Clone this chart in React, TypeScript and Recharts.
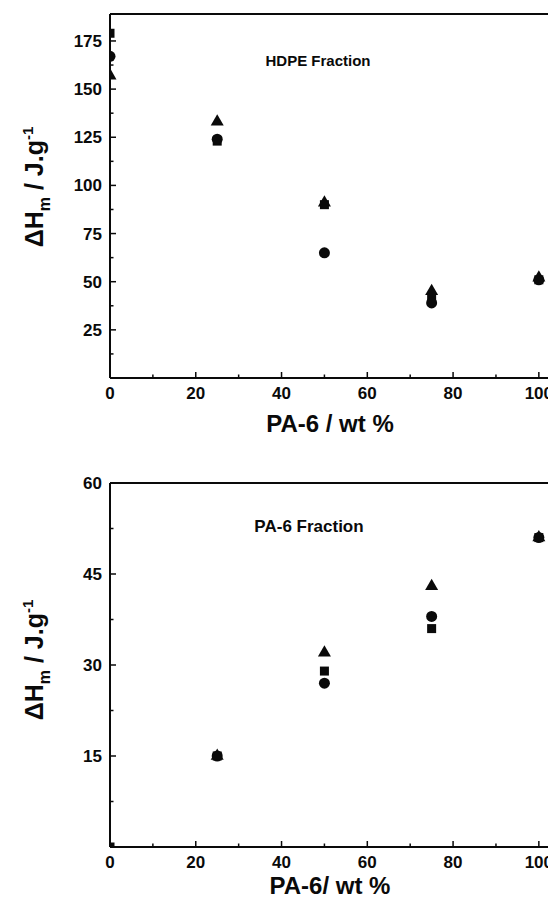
import { ScatterChart, Scatter, XAxis, YAxis, ReferenceLine } from 'recharts';

// PA-6 content of the blends (wt %)
const pa6Content = [0, 25, 50, 75, 100];

// HDPE fraction, melting enthalpy (J/g)
const hdpeSquare = [179, 123, 90, 41, 51];
const hdpeCircle = [167, 124, 65, 39, 51];
const hdpeTriangle = [157, 133, 91, 45, 52];

// PA-6 fraction, melting enthalpy (J/g)
const pa6Square = [0, 15, 29, 36, 51];
const pa6Circle = [null, 15, 27, 38, 51];
const pa6Triangle = [null, 15, 32, 43, 51];

const xTicks = [0, 10, 20, 30, 40, 50, 60, 70, 80, 90, 100];
const hdpeYTicks = [12.5, 25, 37.5, 50, 62.5, 75, 87.5, 100, 112.5, 125, 137.5, 150, 162.5, 175];
const pa6YTicks = [7.5, 15, 22.5, 30, 37.5, 45, 52.5, 60];

const FONT = '"Liberation Sans", Arial, Helvetica, sans-serif';
const INK = '#0a0a0a';

const toPoints = (ys: (number | null)[]) =>
  pa6Content.map((x, i) => ({ x, y: ys[i] })).filter((p) => p.y !== null);

const SquareMark = (p: any) => <rect x={p.cx - 4.5} y={p.cy - 4.5} width={9} height={9} fill={INK} />;
const CircleMark = (p: any) => <circle cx={p.cx} cy={p.cy} r={5.5} fill={INK} />;
const TriangleMark = (p: any) => {
  const s = 13;
  const h = s * 0.866;
  return (
    <path
      d={`M${p.cx},${p.cy - (h * 2) / 3}L${p.cx + s / 2},${p.cy + h / 3}L${p.cx - s / 2},${p.cy + h / 3}Z`}
      fill={INK}
    />
  );
};

const XTick = ({ x, y, payload }: any) => {
  const v = payload.value;
  const major = v % 20 === 0;
  return (
    <g>
      <line x1={x} x2={x} y1={y} y2={y - (major ? 6 : 3.5)} stroke={INK} strokeWidth={1.5} />
      {major && (
        <text x={x} y={y + 9} dy="0.71em" textAnchor="middle" fill={INK} fontSize={17} fontWeight="bold" fontFamily={FONT}>
          {v}
        </text>
      )}
    </g>
  );
};

const makeYTick = (step: number) => ({ x, y, payload }: any) => {
  const v = payload.value;
  const major = v % step === 0;
  return (
    <g>
      <line x1={x} x2={x + (major ? 6 : 3.5)} y1={y} y2={y} stroke={INK} strokeWidth={1.5} />
      {major && (
        <text x={x - 8} y={y} dy="0.35em" textAnchor="end" fill={INK} fontSize={17} fontWeight="bold" fontFamily={FONT}>
          {v}
        </text>
      )}
    </g>
  );
};

const XTitle = ({ text, cx, cy }: any) => (
  <text x={cx} y={cy} dy="0.35em" textAnchor="middle" fill={INK} fontSize={24} fontWeight="bold" fontFamily={FONT}>
    {text}
  </text>
);

const YTitle = ({ cx, cy }: any) => (
  <text
    x={cx}
    y={cy}
    dy="0.35em"
    transform={`rotate(-90, ${cx}, ${cy})`}
    textAnchor="middle"
    fill={INK}
    fontSize={25}
    fontWeight="bold"
    fontFamily={FONT}
  >
    ΔH
    <tspan fontSize={16} dy={7}>m</tspan>
    <tspan dy={-7}> / J.g</tspan>
    <tspan fontSize={15} dy={-10}>-1</tspan>
  </text>
);

const Panel = ({
  height,
  top,
  xAxisHeight,
  yMax,
  yTicks,
  yStep,
  series,
  title,
  titleStyle,
  xTitle,
  xTitleY,
  yTitleY,
}: any) => (
  <div style={{ position: 'relative', width: 548, height }}>
    <ScatterChart width={548} height={height} margin={{ top, right: 0, bottom: 0, left: 0 }}>
      <XAxis
        type="number"
        dataKey="x"
        domain={[0, 104]}
        allowDataOverflow
        ticks={xTicks}
        interval={0}
        tickSize={0}
        tickMargin={0}
        tick={<XTick />}
        height={xAxisHeight}
        axisLine={{ stroke: INK, strokeWidth: 2 }}
        label={<XTitle text={xTitle} cx={322} cy={xTitleY} />}
      />
      <YAxis
        type="number"
        dataKey="y"
        domain={[0, yMax]}
        allowDataOverflow
        ticks={yTicks}
        interval={0}
        tickSize={0}
        tickMargin={0}
        tick={makeYTick(yStep)}
        width={102}
        axisLine={{ stroke: INK, strokeWidth: 2 }}
        label={<YTitle cx={26} cy={yTitleY} />}
      />
      <ReferenceLine y={yMax} stroke={INK} strokeWidth={2} />
      <Scatter data={toPoints(series[0])} shape={<SquareMark />} isAnimationActive={false} />
      <Scatter data={toPoints(series[1])} shape={<CircleMark />} isAnimationActive={false} />
      <Scatter data={toPoints(series[2])} shape={<TriangleMark />} isAnimationActive={false} />
    </ScatterChart>
    <div
      style={{
        position: 'absolute',
        fontFamily: FONT,
        fontWeight: 'bold',
        color: INK,
        whiteSpace: 'nowrap',
        transform: 'translate(-50%, -50%)',
        ...titleStyle,
      }}
    >
      {title}
    </div>
  </div>
);

export default function App() {
  return (
    <div style={{ width: 548, background: '#fff' }}>
      <style>{'.recharts-surface { overflow: visible; }'}</style>
      <Panel
        height={432}
        top={6}
        xAxisHeight={62}
        yMax={189}
        yTicks={hdpeYTicks}
        yStep={25}
        series={[hdpeSquare, hdpeCircle, hdpeTriangle]}
        title="HDPE Fraction"
        titleStyle={{ left: 310, top: 52, fontSize: 15 }}
        xTitle="PA-6 / wt %"
        xTitleY={416}
        yTitleY={179}
      />
      <Panel
        height={454}
        top={43}
        xAxisHeight={47}
        yMax={60}
        yTicks={pa6YTicks}
        yStep={15}
        series={[pa6Square, pa6Circle, pa6Triangle]}
        title="PA-6 Fraction"
        titleStyle={{ left: 301, top: 87, fontSize: 17 }}
        xTitle="PA-6/ wt %"
        xTitleY={446}
        yTitleY={220}
      />
    </div>
  );
}
